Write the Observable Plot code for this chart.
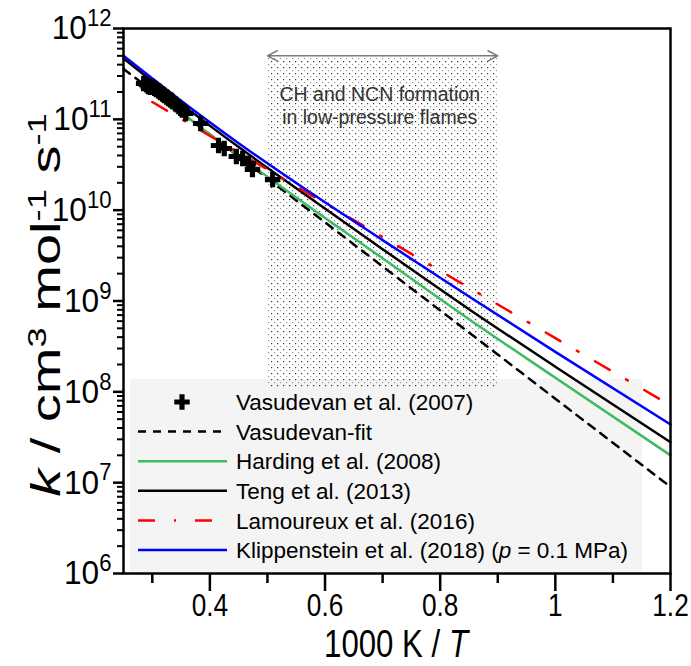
<!DOCTYPE html>
<html><head><meta charset="utf-8">
<script src="https://cdn.jsdelivr.net/npm/d3@7"></script>
<script src="https://cdn.jsdelivr.net/npm/@observablehq/plot@0.6"></script>
<style>
body{margin:0;background:#fff;}
#chart{position:relative;width:691px;height:666px;}
</style></head><body><div id="chart"></div>
<script>
// ---- data (1000 K / T, k in cm3 mol-1 s-1) ----
const expX = [0.285, 0.290, 0.293, 0.297, 0.300, 0.304, 0.307, 0.311, 0.314, 0.318, 0.321, 0.325, 0.328, 0.332, 0.335, 0.340, 0.346, 0.352, 0.358, 0.384, 0.415, 0.425, 0.446, 0.457, 0.467, 0.474, 0.509];
const expK = [2.48e11, 2.40e11, 2.30e11, 2.25e11, 2.30e11, 2.20e11, 2.13e11, 2.05e11, 1.97e11, 1.90e11, 1.83e11, 1.76e11, 1.69e11, 1.63e11, 1.57e11, 1.48e11, 1.38e11, 1.27e11, 1.16e11, 9.0e10, 5.15e10, 4.78e10, 3.90e10, 3.71e10, 3.27e10, 2.81e10, 2.17e10];

const fitX = [0.25, 0.45, 0.65, 0.85, 1.05, 1.2];
const fitK = [3.6e11, 3.9e10, 4.2e9, 4.5e8, 4.8e7, 9.0e6];

const hardX = [0.30, 0.35, 0.45, 0.55, 0.70, 0.85, 1.0, 1.2];
const hardK = [2.14e11, 1.20e11, 3.98e10, 1.38e10, 2.95e9, 6.3e8, 1.43e8, 2.0e7];

const tengX = [0.25, 0.35, 0.45, 0.55, 0.70, 0.85, 1.0, 1.2];
const tengK = [4.68e11, 1.48e11, 4.95e10, 1.74e10, 3.72e9, 8.13e8, 1.89e8, 2.79e7];

const lamX = [0.30, 0.50, 0.75, 1.0, 1.2];
const lamK = [1.55e11, 2.8e10, 3.3e9, 3.9e8, 7.1e7];

const klipX = [0.25, 0.35, 0.45, 0.55, 0.70, 0.85, 1.0, 1.2];
const klipK = [5.0e11, 1.60e11, 5.45e10, 1.99e10, 4.68e9, 1.12e9, 2.75e8, 4.37e7];

const xMajorTicks = [0.4, 0.6, 0.8, 1, 1.2];
const xMinorTicks = [0.3, 0.5, 0.7, 0.9, 1.1];
const yMajorTicks = [1e6, 1e7, 1e8, 1e9, 1e10, 1e11, 1e12];

const regionX = [0.5, 0.9];
const regionK = [1.1e8, 4.7e11];
const arrowK = 5e11;
const noteLines = ["CH and NCN formation", "in low-pressure flames"];
const noteK = [1.87e11, 1.05e11];
const noteX = 0.695;

const legendLabels = ["Vasudevan et al. (2007)", "Vasudevan-fit", "Harding et al. (2008)", "Teng et al. (2013)", "Lamoureux et al. (2016)", "Klippenstein et al. (2018) "];
const seriesColors = ["#000000", "#000000", "#3dbb5d", "#000000", "#ff0000", "#0000ff"];
const seriesDash = [null, "8,7", null, null, "17,19,2,19", null];

// ---- helpers ----
const rows = (xs, ks) => xs.map((x, i) => ({x, k: ks[i]}));
const yMinorTicks = [];
for (let e = 6; e < 12; e++) for (let m = 2; m <= 9; m++) yMinorTicks.push(m * Math.pow(10, e));

const SANS = "'Liberation Sans', Arial, sans-serif";
const NARROW_SCALE = 0.8;

const lineOpts = (i) => ({x: "x", y: "k", stroke: seriesColors[i], strokeWidth: 2.5, curve: "monotone-x", strokeDasharray: seriesDash[i] || undefined});

const plot = Plot.plot({
  width: 691, height: 666,
  marginLeft: 123, marginRight: 21, marginTop: 28, marginBottom: 93,
  style: {fontFamily: SANS, fontSize: "34px", color: "#000", background: "#fff", overflow: "visible"},
  x: {domain: [0.25, 1.2]},
  y: {type: "log", domain: [1e6, 1e12]},
  marks: [
    Plot.rect([{x1: regionX[0], x2: regionX[1], y1: regionK[0], y2: regionK[1]}], {x1: "x1", x2: "x2", y1: "y1", y2: "y2", fill: "url(#dots)"}),
    Plot.arrow([{a: (regionX[0] + regionX[1]) / 2, b: regionX[0]}, {a: (regionX[0] + regionX[1]) / 2, b: regionX[1]}], {x1: "a", x2: "b", y1: arrowK, y2: arrowK, stroke: "#7a7a7a", strokeWidth: 1.5, headLength: 11, headAngle: 55}),
    Plot.text(noteLines.map((t, i) => ({t, k: noteK[i]})), {x: noteX, y: "k", text: "t", fontFamily: SANS, fontSize: 19.5, fill: "#333"}),
    Plot.line(rows(fitX, fitK), lineOpts(1)),
    Plot.line(rows(hardX, hardK), lineOpts(2)),
    Plot.line(rows(tengX, tengK), lineOpts(3)),
    Plot.line(rows(lamX, lamK), lineOpts(4)),
    Plot.line(rows(klipX, klipK), lineOpts(5)),
    Plot.dot(rows(expX, expK), {x: "x", y: "k", symbol: "cross", r: 6.5, fill: "#000", stroke: "none"}),
    Plot.axisX(xMajorTicks, {tickSize: 18, tickPadding: 2, strokeWidth: 2.5, tickFormat: d => String(d), label: null, fontSize: 32}),
    Plot.axisX(xMinorTicks, {tickSize: 10, strokeWidth: 2.5, tickFormat: () => "", label: null}),
    Plot.axisY(yMajorTicks, {tickSize: 10, tickPadding: 2, strokeWidth: 2.5, tickFormat: d => "10^" + Math.round(Math.log10(d)), label: null, fontSize: 34}),
    Plot.axisY(yMinorTicks, {tickSize: 6, strokeWidth: 2, tickFormat: () => "", label: null}),
    Plot.frame({stroke: "#000", strokeWidth: 2.5})
  ]
});

document.getElementById("chart").appendChild(plot);
const svg = d3.select(plot);

// dotted pattern
const defs = svg.insert("defs", ":first-child");
const pat = defs.append("pattern").attr("id", "dots").attr("patternUnits", "userSpaceOnUse").attr("width", 6).attr("height", 6);
pat.append("rect").attr("x", 1).attr("y", 1).attr("width", 1.2).attr("height", 1.2).attr("fill", "#333");
pat.append("rect").attr("x", 4).attr("y", 4).attr("width", 1.2).attr("height", 1.2).attr("fill", "#999");

// condensed look for axis texts: scale around each label's own anchor
function narrow(el, s) {
  const tr = el.getAttribute("transform") || "";
  el.setAttribute("transform", `${tr} scale(${s},1)`);
}

// superscript tick labels
svg.selectAll('g[aria-label="y-axis tick label"] text').each(function() {
  const t = d3.select(this);
  const s = t.text();
  if (!s.includes("^")) return;
  const exp = s.split("^")[1];
  t.text(null);
  t.append("tspan").text("10");
  t.append("tspan").attr("dy", "-0.55em").attr("font-size", "0.7em").text(exp);
  narrow(this, 0.93);
});
svg.selectAll('g[aria-label="x-axis tick label"] text').each(function() {
  if (this.textContent) narrow(this, 0.82);
});

// legend (box beneath marks)
const firstG = plot.querySelector("g");
const legBox = {x: 130, y: 379, w: 512, h: 193};
svg.insert("rect", () => firstG)
  .attr("x", legBox.x).attr("y", legBox.y).attr("width", legBox.w).attr("height", legBox.h)
  .attr("fill", "#f4f4f4");

const leg = svg.append("g").attr("font-family", SANS).attr("font-size", 22.5).attr("text-anchor", "start");
legendLabels.forEach((lab, i) => {
  const yy = 402 + i * 29.6;
  if (i === 0) {
    leg.append("path").attr("d", d3.symbol(d3.symbolCross, 6.5 * 6.5 * Math.PI)()).attr("transform", `translate(182,${yy})`).attr("fill", "#000");
  } else {
    leg.append("line").attr("x1", 138).attr("x2", 227).attr("y1", yy).attr("y2", yy)
      .attr("stroke", seriesColors[i]).attr("stroke-width", 2.5)
      .attr("stroke-dasharray", seriesDash[i]);
  }
  const tx = leg.append("text").attr("x", 236).attr("y", yy).attr("dy", "0.36em").attr("fill", "#000").text(lab);
  if (i === 5) {
    tx.append("tspan").text("(");
    tx.append("tspan").attr("font-style", "italic").text("p");
    tx.append("tspan").text(" = 0.1 MPa)");
  }
});

// axis titles
const xt = svg.append("text").attr("transform", `translate(396,657) scale(${NARROW_SCALE},1)`).attr("text-anchor", "middle")
  .attr("font-family", SANS).attr("font-size", 39).attr("fill", "#000");
xt.append("tspan").text("1000 K / ");
xt.append("tspan").attr("font-style", "italic").text("T");

const yt = svg.append("text").attr("transform", "translate(60,305) rotate(-90) scale(1.4,1)").attr("text-anchor", "middle")
  .attr("font-family", SANS).attr("font-size", 40).attr("fill", "#000");
yt.append("tspan").attr("font-style", "italic").text("k");
yt.append("tspan").text(" / cm");
yt.append("tspan").attr("dy", -14).attr("font-size", 26).text("3");
yt.append("tspan").attr("dy", 14).text(" mol");
yt.append("tspan").attr("dy", -14).attr("font-size", 26).text("-1");
yt.append("tspan").attr("dy", 14).text(" s");
yt.append("tspan").attr("dy", -14).attr("font-size", 26).text("-1");
</script>
</body></html>
